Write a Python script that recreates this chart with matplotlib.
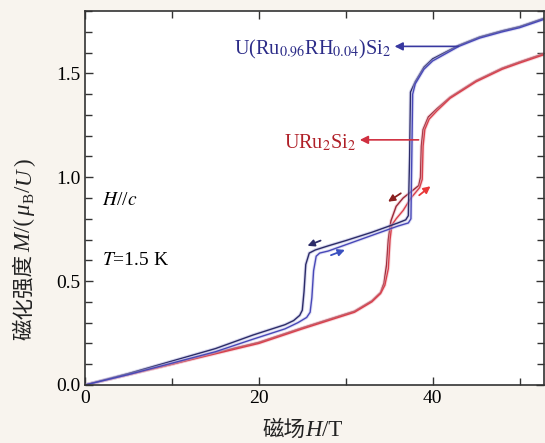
import matplotlib.pyplot as plt
from matplotlib.ticker import MultipleLocator

plt.rcParams['font.family'] = ['Liberation Serif', 'Noto Sans CJK SC']
plt.rcParams['mathtext.fontset'] = 'stix'

# U(Ru0.96Rh0.04)Si2, field up sweep
h_blue_up = [0, 5, 10, 15, 19.3, 23, 24.5, 25.5, 25.9, 26.1, 26.3, 26.6, 27, 28, 30, 33, 36,
             37.2, 37.5, 37.6, 37.7, 38, 39, 40, 43, 45.4, 48, 50, 52.8]
m_blue_up = [0, 0.05, 0.105, 0.16, 0.22, 0.27, 0.30, 0.325, 0.35, 0.42, 0.55, 0.62, 0.635, 0.645,
             0.675, 0.72, 0.765, 0.78, 0.80, 1.1, 1.40, 1.45, 1.52, 1.56, 1.63, 1.67, 1.70, 1.72, 1.76]
# U(Ru0.96Rh0.04)Si2, field down sweep
h_blue_dn = [0, 5, 10, 15, 19.3, 23, 24.0, 24.7, 25.0, 25.2, 25.4, 25.8, 26.5, 28, 30, 33, 36,
             36.9, 37.2, 37.35, 37.45, 38, 39, 40, 43, 45.4, 48, 50, 52.8]
m_blue_dn = [0, 0.055, 0.115, 0.175, 0.24, 0.29, 0.31, 0.335, 0.36, 0.45, 0.58, 0.635, 0.65, 0.67,
             0.695, 0.735, 0.78, 0.795, 0.815, 1.1, 1.41, 1.46, 1.53, 1.57, 1.635, 1.675, 1.705, 1.725, 1.765]
# URu2Si2, field up sweep
h_red_up = [0, 5, 10, 15, 20, 25, 28, 31, 33, 34, 34.5, 34.9, 35.1, 35.3, 35.8, 36.6, 37.5,
            38.5, 38.8, 38.9, 39.1, 39.6, 40.5, 42, 45, 48, 50, 52.8]
m_red_up = [0, 0.05, 0.10, 0.15, 0.20, 0.27, 0.31, 0.35, 0.40, 0.44, 0.48, 0.56, 0.70, 0.77,
            0.80, 0.84, 0.90, 0.95, 0.99, 1.15, 1.23, 1.28, 1.32, 1.38, 1.46, 1.52, 1.55, 1.59]
# URu2Si2, field down sweep
h_red_dn = [0, 5, 10, 15, 20, 25, 28, 31, 33, 34, 34.4, 34.7, 34.9, 35.2, 35.8, 36.6, 37.5,
            38.4, 38.6, 38.7, 38.9, 39.5, 40.5, 42, 45, 48, 50, 52.8]
m_red_dn = [0, 0.05, 0.10, 0.155, 0.205, 0.275, 0.315, 0.355, 0.405, 0.445, 0.49, 0.58, 0.70,
            0.79, 0.86, 0.90, 0.93, 0.96, 1.0, 1.15, 1.23, 1.29, 1.33, 1.385, 1.465, 1.525, 1.555, 1.595]

W, H = 545, 443
fig = plt.figure(figsize=(W / 100, H / 100), dpi=100, facecolor='#f8f4ee')
ax = fig.add_axes([0.156, 0.131, 0.842, 0.844])

# pale halo under each curve, then the curve itself
for h, m, c, halo in [(h_red_dn, m_red_dn, '#9a2a38', '#e8a0b0'),
                      (h_red_up, m_red_up, '#d8404c', '#f0b0b8'),
                      (h_blue_dn, m_blue_dn, '#2c2c68', '#a8a8d8'),
                      (h_blue_up, m_blue_up, '#4848b8', '#b8b8e8')]:
    ax.plot(h, m, color=halo, lw=2.4, alpha=0.45, solid_joinstyle='round')
    ax.plot(h, m, color=c, lw=1.0, solid_joinstyle='round')

# labels with arrows
ax.annotate('', xy=(35.3, 1.63), xytext=(43.3, 1.63),
            arrowprops=dict(arrowstyle='-|>', color='#3838a0', lw=1.2, mutation_scale=12))
ax.text(35.2, 1.615, r'U(Ru$_{0.96}$RH$_{0.04}$)Si$_2$', color='#2c2c88', fontsize=14.5,
        ha='right', va='center')
ax.annotate('', xy=(31.3, 1.18), xytext=(38.7, 1.18),
            arrowprops=dict(arrowstyle='-|>', color='#d03040', lw=1.2, mutation_scale=12))
ax.text(31.2, 1.165, r'URu$_2$Si$_2$', color='#b02028', fontsize=14.5, ha='right', va='center')

# sweep direction arrows
for (x0, y0, x1, y1, c) in [(27.4, 0.70, 25.3, 0.665, '#2c2c68'),
                            (28.0, 0.62, 30.2, 0.655, '#3a50c0'),
                            (36.6, 0.93, 34.6, 0.875, '#8a2020'),
                            (38.2, 0.905, 40.0, 0.965, '#e83838')]:
    ax.annotate('', xy=(x1, y1), xytext=(x0, y0),
                arrowprops=dict(arrowstyle='-|>', color=c, lw=1.3, mutation_scale=10))

ax.text(2.0, 0.89, '$H$//$c$', fontsize=14, va='center')
ax.text(2.0, 0.60, '$T$=1.5 K', fontsize=14, va='center')

ax.set_xlim(0, 52.8)
ax.set_ylim(0, 1.80)
ax.xaxis.set_major_locator(MultipleLocator(20))
ax.xaxis.set_minor_locator(MultipleLocator(10))
ax.yaxis.set_major_locator(MultipleLocator(0.5))
ax.yaxis.set_minor_locator(MultipleLocator(0.1))
ax.set_yticks([0, 0.5, 1.0, 1.5])
ax.set_yticklabels(['0.0', '0.5', '1.0', '1.5'])
ax.tick_params(which='both', direction='in', top=True, right=True, labelsize=14,
               color='#333333', width=1.0)
ax.tick_params(which='major', length=6)
ax.tick_params(which='minor', length=5)
for s in ax.spines.values():
    s.set_color('#333333')
    s.set_linewidth(1.2)

# axis titles: Chinese + italic Latin pieces, laid end to end
cjk = dict(family='Noto Sans CJK SC', fontsize=15.5, color='#222222')
rom = dict(family='Liberation Serif', fontsize=16.5, color='#222222')
ita = dict(family='Liberation Serif', fontsize=16.5, style='italic', color='#222222')
sub = dict(family='Liberation Serif', fontsize=11, color='#222222')
renderer = fig.canvas.get_renderer()


def chain(parts, x0, y0, vertical=False, gap=0.0):
    pos = y0 if vertical else x0
    for s, props, shift in parts:
        if vertical:
            t = fig.text((x0 - shift) / W, pos / H, s, rotation=90, rotation_mode='anchor',
                         ha='left', va='baseline', **props)
            pos = t.get_window_extent(renderer).y1 + gap
        else:
            t = fig.text(pos / W, (y0 + shift) / H, s, ha='left', va='baseline', **props)
            pos = t.get_window_extent(renderer).x1 + gap


chain([('磁场', cjk, 0), ('H', ita, 0), ('/T', rom, 0)], 262, 7)
chain([('磁化强度', cjk, 0), ('M', ita, 0), ('/(', rom, 0), ('μ', ita, 0),
       ('B', sub, -4), ('/', rom, 0), ('U', ita, 0), (')', rom, 0)], 30, 103,
      vertical=True, gap=1.5)

plt.savefig('out.png', dpi=100, facecolor=fig.get_facecolor())
